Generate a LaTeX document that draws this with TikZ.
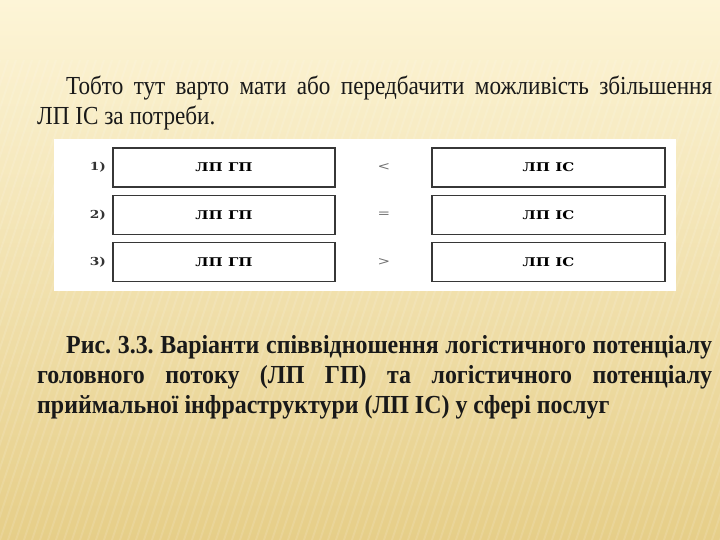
\documentclass[tikz,border=0pt]{standalone}
\usepackage{fontspec}
\setmainfont{Liberation Serif}[FakeStretch=0.89,BoldFeatures={FakeStretch=0.92}]
\newfontfamily\boxfont{DejaVu Serif}[FakeStretch=1.25]
\usetikzlibrary{positioning}
\frenchspacing
\definecolor{bgtop}{RGB}{253,245,215}
\definecolor{bgbot}{RGB}{230,206,136}
\definecolor{boxline}{RGB}{55,55,55}
\definecolor{relgray}{RGB}{110,110,110}
\tikzset{
  para/.style={anchor=north west,inner sep=0pt,text width=675pt,align=justify,
    font=\fontsize{26}{30}\selectfont,text=black!90},
  potbox/.style={draw=boxline,line width=1.1pt,fill=white,minimum height=39pt,
    inner sep=0pt,font=\boxfont\bfseries\fontsize{12}{12}\selectfont},
  gpbox/.style={potbox,minimum width=222pt},
  isbox/.style={potbox,minimum width=233pt},
  numlab/.style={font=\boxfont\bfseries\fontsize{11}{11}\selectfont,text=black!80},
  rellab/.style={font=\boxfont\fontsize{12}{12}\selectfont,text=relgray}
}
\begin{document}
\begin{tikzpicture}[x=1pt,y=-1pt]
\useasboundingbox (0,0) rectangle (720,540);
\shade[top color=bgtop,bottom color=bgbot] (0,0) rectangle (720,540);
% slanted stripes of the background
\foreach \i in {-240,-232,...,720}
  \draw[white,opacity=0.12,line width=2pt] (\i,540) -- (\i+160,60);
\node[para] (intro) at (37,76) {\hspace*{29pt}Тобто тут варто мати або передбачити можливість збільшення\linebreak ЛП ІС за потреби.};
% scheme
\fill[white] (54,139) rectangle (676,291);
\node[gpbox] (gp1) at (224,167.5) {ЛП ГП};
\node[gpbox] (gp2) at (224,215) {ЛП ГП};
\node[gpbox] (gp3) at (224,262) {ЛП ГП};
\node[isbox] (is1) at (548.5,167.5) {ЛП ІС};
\node[isbox] (is2) at (548.5,215) {ЛП ІС};
\node[isbox] (is3) at (548.5,262) {ЛП ІС};
\node[numlab,left=3pt of gp1] (n1) {1)};
\node[numlab,left=3pt of gp2] (n2) {2)};
\node[numlab,left=3pt of gp3] (n3) {3)};
\node[rellab] (r1) at (384,167.5) {<};
\node[rellab] (r2) at (384,215) {=};
\node[rellab] (r3) at (384,262) {>};
\node[para,font=\bfseries\fontsize{26}{30}\selectfont] (caption) at (37,335) {\hspace*{29pt}{\spaceskip=0.1em plus 1em Рис. 3.3. Варіанти співвідношення логістичного потенціалу}\linebreak головного потоку (ЛП ГП) та логістичного потенціалу\linebreak приймальної інфраструктури (ЛП ІС) у сфері послуг};
\end{tikzpicture}
\end{document}
